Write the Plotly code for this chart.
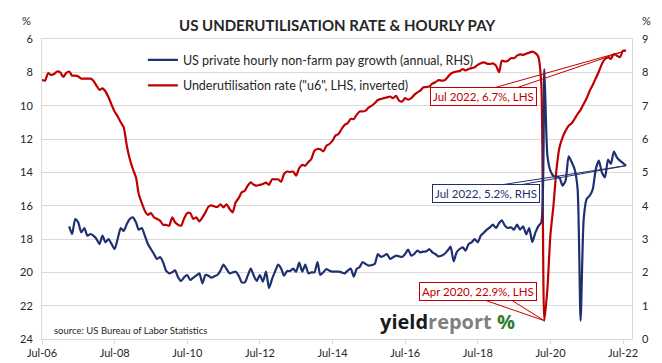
import pandas as pd
import plotly.graph_objects as go

# ---- data ----
u6_start = "2006-06-30"
u6 = [
    8.45, 8.5, 8.05, 8.15, 8.1, 7.95, 8.0,
    8.28, 8.05, 7.95, 8.2, 8.2, 8.25, 8.38, 8.38, 8.38, 8.38, 8.5, 8.8,
    9.05, 8.96, 9.15, 9.5, 9.95, 10.35, 10.65, 11.0, 11.3, 12.4, 13.2, 13.8,
    14.3, 15.3, 15.85, 16.3, 16.55, 16.45, 16.7, 16.8, 16.9, 17.15, 17.15, 17.2,
    16.7, 17.0, 17.15, 17.2, 16.75, 16.45, 16.45, 16.8, 16.7, 16.95, 16.7, 16.4,
    16.05, 15.98, 16.05, 16.08, 15.92, 16.1, 15.92, 16.2, 16.4, 15.8, 15.55, 15.2,
    15.1, 14.8, 14.6, 14.75, 14.8, 14.75, 14.7, 14.62, 14.75, 14.42, 14.42, 14.42,
    14.56, 14.1, 13.95, 13.98, 13.95, 14.2, 13.74, 13.55, 13.6, 13.38, 13.2, 12.7,
    12.6, 12.62, 12.75, 12.4, 12.3, 12.1, 11.8, 11.7, 11.4, 11.15, 11.05, 10.8,
    10.8, 10.55, 10.35, 10.35, 10.3, 10.1, 10.0, 9.84, 9.66, 9.6, 9.55, 9.5,
    9.45, 9.55, 9.41, 9.7, 9.75, 9.55, 9.64, 9.55, 9.35, 9.2, 9.1, 8.9,
    8.88, 8.85, 8.68, 8.6, 8.47, 8.5, 8.48, 8.3, 8.09, 7.99, 7.95, 7.92,
    7.8, 7.89, 7.8, 7.75, 7.7, 7.55, 7.45, 7.4, 7.48, 7.5, 7.46, 7.6,
    8.0, 7.3, 7.35, 7.3, 7.15, 7.15, 7.0, 6.92, 6.95, 6.88, 6.82, 6.76,
    6.85, 7.05, 8.7, 22.9, 21.0, 17.8, 16.0, 13.8, 12.5, 11.9, 11.5, 11.2,
    11.05, 10.8, 10.5, 10.25, 9.9, 9.55, 9.1, 8.75, 8.35, 7.95, 7.5, 7.2,
    7.1, 7.2, 6.9, 7.0, 7.1, 6.7, 6.7,
]

pay_start = "2007-03-31"
pay = [
    3.38, 3.15, 3.6, 3.5, 3.2, 3.33, 3.1, 3.15, 3.1, 3.0,
    2.85, 3.1, 2.9, 3.0, 2.85, 2.7, 3.0, 3.33, 3.24, 3.45, 3.6, 3.65,
    3.5, 3.28, 3.33, 3.1, 2.85, 2.7, 2.55, 2.4, 2.46, 2.3, 2.05, 1.97,
    2.0, 2.06, 1.85, 1.74, 1.85, 1.92, 1.77, 1.84, 1.9, 1.97, 1.67, 1.92,
    1.9, 1.84, 1.88, 1.92, 2.05, 2.23, 2.1, 1.97, 2.0, 2.02, 1.9, 1.7,
    1.7, 1.9, 2.11, 1.9, 1.74, 1.92, 1.72, 2.02, 1.53, 1.8, 2.02, 2.23,
    2.11, 1.9, 2.04, 2.04, 2.11, 2.02, 2.29, 2.02, 2.23, 1.97, 2.0, 2.0,
    2.31, 1.92, 2.0, 2.1, 2.05, 2.02, 2.02, 2.02, 2.0, 1.97, 2.05, 2.11,
    1.87, 2.1, 2.16, 2.31, 2.25, 2.2, 2.22, 2.26, 2.55, 2.46, 2.5, 2.55,
    2.4, 2.45, 2.5, 2.48, 2.46, 2.55, 2.68, 2.5, 2.55, 2.65, 2.6, 2.62,
    2.63, 2.7, 2.6, 2.55, 2.48, 2.5, 2.55, 2.65, 2.77, 2.33, 2.6, 2.7,
    2.75, 2.65, 2.85, 2.9, 3.0, 2.9, 3.1, 3.19, 3.28, 3.35, 3.43, 3.33,
    3.48, 3.56, 3.4, 3.33, 3.35, 3.28, 3.43, 3.28, 3.38, 3.14, 3.33, 2.91,
    3.19, 3.38, 3.5, 8.1, 5.5, 5.05, 4.89, 4.87, 4.84, 4.6, 4.75, 5.48,
    5.3, 5.1, 4.5, 0.55, 3.6, 4.2, 4.3, 4.5, 5.1, 5.35, 5.0, 4.85,
    5.38, 5.25, 5.62, 5.45, 5.35, 5.28, 5.2,
]

left_ticks = [6, 8, 10, 12, 14, 16, 18, 20, 22, 24]
right_ticks = [0, 1, 2, 3, 4, 5, 6, 7, 8, 9]

name_pay = "US private hourly non-farm pay growth (annual, RHS)"
name_u6 = "Underutilisation rate (\"u6\", LHS, inverted)"
title = "US UNDERUTILISATION RATE & HOURLY PAY"

RED = "#C00000"
NAVY = "#1F3070"
GRID = "#D9D9D9"
TXT = "#262626"
FONT = "Lato"

u6_dates = pd.date_range(u6_start, periods=len(u6), freq="ME")
pay_dates = pd.date_range(pay_start, periods=len(pay), freq="ME")

fig = go.Figure()
fig.add_trace(go.Scatter(
    x=pay_dates, y=pay, name=name_pay, yaxis="y2", mode="lines",
    line=dict(color=NAVY, width=2.2, shape="spline", smoothing=0.6),
    legend="legend",
))
fig.add_trace(go.Scatter(
    x=u6_dates, y=u6, name=name_u6, yaxis="y", mode="lines",
    line=dict(color=RED, width=2.2, shape="spline", smoothing=0.6),
    legend="legend2",
))

# peak/last points for callouts
imax = max(range(len(u6)), key=lambda i: u6[i])
u6_last_d, u6_last = u6_dates[-1], u6[-1]
pay_last_d, pay_last = pay_dates[-1], pay[-1]
u6_max_d, u6_max = u6_dates[imax], u6[imax]

def callout(xd, yv, yref, text, color, dx, dy, w1, w2):
    anns = [dict(
        x=xd, y=yv, xref="x", yref=yref, text=text, showarrow=False,
        xshift=dx, yshift=dy, xanchor="center", yanchor="middle",
        font=dict(family=FONT, size=11.5, color=color),
        bordercolor=color, borderwidth=1, borderpad=2, bgcolor="white",
    )]
    shapes = []
    for (px, py) in (w1, w2):
        shapes.append(dict(
            type="line", xref="x", yref=yref, xsizemode="pixel", ysizemode="pixel",
            xanchor=xd, yanchor=yv, x0=0, y0=0, x1=px, y1=py,
            line=dict(color=color, width=1),
        ))
    return anns, shapes

a1, s1 = callout(u6_last_d, u6_last, "y", f"Jul 2022, {u6_last}%, LHS", RED,
                 -143, -46, (-135, -38), (-112, -38))
a2, s2 = callout(pay_last_d, pay_last, "y2", f"Jul 2022, {pay_last}%, RHS", NAVY,
                 -140, -28, (-130, -20), (-110, -20))
a3, s3 = callout(u6_max_d, u6_max, "y", f"Apr 2020, {u6_max}%, LHS", RED,
                 -66, 29, (-58, 20), (-32, 20))

annotations = a1 + a2 + a3 + [
    dict(x=0.5, y=1.047, xref="paper", yref="paper", text=f"<b>{title}</b>",
         showarrow=False, xanchor="center", yanchor="middle",
         font=dict(family=FONT, size=15, color=TXT)),
    dict(x=-0.027, y=1.062, xref="paper", yref="paper", text="%", showarrow=False,
         xanchor="center", yanchor="middle", font=dict(family=FONT, size=11, color=TXT)),
    dict(x=1.024, y=1.062, xref="paper", yref="paper", text="%", showarrow=False,
         xanchor="center", yanchor="middle", font=dict(family=FONT, size=11, color=TXT)),
    dict(x=0.017, y=0.028, xref="paper", yref="paper",
         text="source: US Bureau of Labor Statistics", showarrow=False,
         xanchor="left", yanchor="middle", font=dict(family=FONT, size=9.5, color=TXT)),
    dict(x=0.688, y=0.06, xref="paper", yref="paper",
         text="<b><span style='color:#1a1a1a'>yield</span><span style='color:#7f7f7f'>report</span> "
              "<span style='color:#2E7D32'>%</span></b>",
         showarrow=False, xanchor="center", yanchor="middle",
         font=dict(family="Open Sans", size=20, weight=800)),
]

fig.update_layout(
    width=662, height=363,
    margin=dict(l=33, r=38, t=31, b=24),
    paper_bgcolor="white", plot_bgcolor="white",
    font=dict(family=FONT, size=11, color=TXT),
    showlegend=True,
    legend=dict(x=0.171, y=0.929, xanchor="left", yanchor="middle",
                bgcolor="rgba(0,0,0,0)", font=dict(family=FONT, size=12.5, color=TXT)),
    legend2=dict(x=0.171, y=0.844, xanchor="left", yanchor="middle",
                 bgcolor="rgba(0,0,0,0)", font=dict(family=FONT, size=12.5, color=TXT)),
    xaxis=dict(
        type="date", range=["2006-07-01", "2022-09-29"],
        tick0="2006-07-01", dtick="M24", tickformat="%b-%y",
        ticks="outside", ticklen=4, tickcolor=GRID,
        showgrid=False, showline=True, linecolor=GRID, mirror=True,
        tickfont=dict(family=FONT, size=11, color=TXT),
    ),
    yaxis=dict(
        range=[24, 6], tickvals=left_ticks, showgrid=True, gridcolor=GRID,
        showline=True, linecolor=GRID, mirror=True, zeroline=False,
        ticks="", ticklabelstandoff=6,
        tickfont=dict(family=FONT, size=11, color=TXT),
    ),
    yaxis2=dict(
        range=[0, 9], tickvals=right_ticks, overlaying="y", side="right",
        showgrid=False, zeroline=False, ticks="", ticklabelstandoff=9,
        tickfont=dict(family=FONT, size=11, color=TXT),
    ),
    annotations=annotations,
    shapes=s1 + s2 + s3,
)

fig.write_html("out.html")
